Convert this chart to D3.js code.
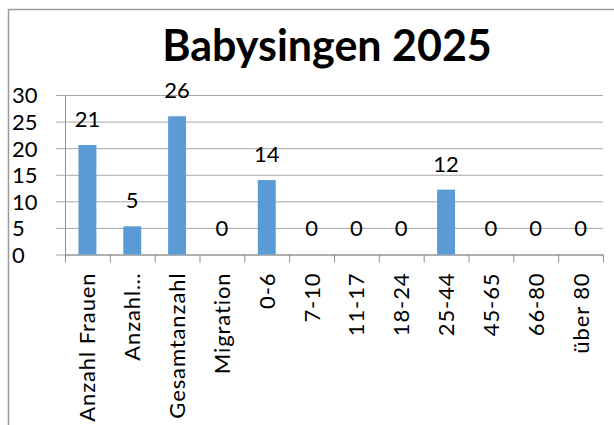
<!DOCTYPE html>
<html>
<head>
<meta charset="utf-8">
<script src="https://cdn.jsdelivr.net/npm/d3@7"></script>
<style>
  html, body { margin: 0; padding: 0; background: #fff; }
  svg { display: block; }
  text { font-family: Lato, "Noto Sans", sans-serif; fill: #000; }
</style>
</head>
<body>
<svg id="chart" width="614" height="425"></svg>
<script>
const title = "Babysingen 2025";
const categories = ["Anzahl Frauen", "Anzahl…", "Gesamtanzahl", "Migration", "0-6", "7-10", "11-17", "18-24", "25-44", "45-65", "66-80", "über 80"];
const values = [20.6, 5.3, 26, 0, 14, 0, 0, 0, 12.2, 0, 0, 0];
const yTicks = [0, 5, 10, 15, 20, 25, 30];

const svg = d3.select("#chart");
svg.append("rect").attr("width", 614).attr("height", 425).attr("fill", "#fff");

// outer chart border (top and left visible)
svg.append("path")
  .attr("d", "M8.5,425V9.5H614")
  .attr("fill", "none").attr("stroke", "#9a9a9a").attr("stroke-width", 1.5);

const plot = { left: 65, right: 603, top: 95, bottom: 254.5 };

const x = d3.scaleBand().domain(categories)
  .range([plot.left, plot.right]).paddingInner(0.6).paddingOuter(0.3);
const xEdges = d3.scaleLinear().domain([0, categories.length]).range([plot.left, plot.right]);
const y = d3.scaleLinear().domain([0, 30]).range([plot.bottom, plot.top]);

// title
svg.append("text")
  .attr("x", 327).attr("y", 61)
  .attr("text-anchor", "middle")
  .style("font-size", "43px").style("font-weight", "bold")
  .text(title);

// gridlines + y axis ticks
const yAxis = svg.append("g")
  .attr("transform", `translate(${plot.left},0)`)
  .call(d3.axisLeft(y).tickValues(yTicks).tickSize(-(plot.right - plot.left)).tickPadding(0).tickFormat(d3.format("d")));
yAxis.select(".domain").attr("stroke", "#8c8c8c").attr("d", `M0.5,${plot.top}V${plot.bottom}`);
yAxis.selectAll(".tick line").attr("stroke", "#a6a6a6").attr("x1", -9);
yAxis.selectAll(".tick text")
  .attr("x", 12 - plot.left).attr("text-anchor", "start").attr("dy", "0.36em")
  .style("font-size", "22px");

// x axis with boundary ticks
const xAxisEdges = svg.append("g")
  .attr("transform", `translate(0,${plot.bottom})`)
  .call(d3.axisBottom(xEdges).tickValues(d3.range(categories.length + 1)).tickSize(8).tickFormat(""));
xAxisEdges.select(".domain").attr("stroke", "#8c8c8c").attr("d", `M${plot.left},0.5H${plot.right}`);
xAxisEdges.selectAll(".tick line").attr("stroke", "#8c8c8c");

// category labels
const xAxis = svg.append("g")
  .attr("transform", `translate(0,${plot.bottom})`)
  .call(d3.axisBottom(x).tickSize(0));
xAxis.select(".domain").remove();
xAxis.selectAll(".tick text")
  .attr("transform", "rotate(-90)")
  .attr("text-anchor", "end")
  .attr("x", -18).attr("y", 0).attr("dy", "0.36em")
  .style("font-size", "22px").style("letter-spacing", "0.9px");

// bars
svg.append("g").selectAll("rect")
  .data(values)
  .join("rect")
  .attr("x", (d, i) => x(categories[i]))
  .attr("y", d => y(d))
  .attr("width", x.bandwidth())
  .attr("height", d => y(0) - y(d))
  .attr("fill", "#5B9BD5");

// value labels
svg.append("g").selectAll("text")
  .data(values)
  .join("text")
  .attr("x", (d, i) => x(categories[i]) + x.bandwidth() / 2)
  .attr("y", d => y(d) - 26)
  .attr("dy", "0.36em")
  .attr("text-anchor", "middle")
  .style("font-size", "22px")
  .text(d => d3.format(".0f")(d));
</script>
</body>
</html>
